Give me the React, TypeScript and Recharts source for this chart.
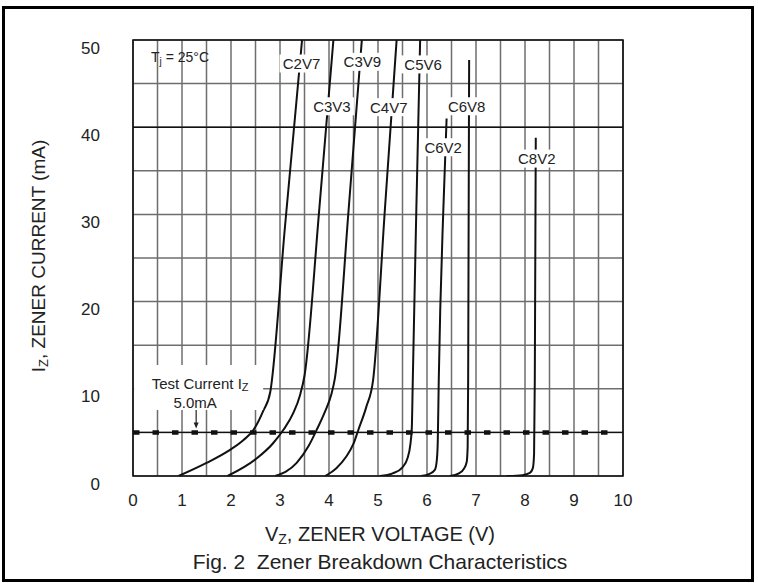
import React from "react";
import {
  LineChart,
  Line,
  XAxis,
  YAxis,
  CartesianGrid,
  ReferenceLine,
  ReferenceArea,
  ReferenceDot,
} from "recharts";

// Vz (V), Iz (mA)
const c2v7: [number, number][] = [[0.93, 0], [1.5, 1.5], [1.98, 3.0], [2.25, 4.1], [2.46, 5.3], [2.66, 7.5], [2.8, 9.6], [3.1, 28.5], [3.45, 50]];
const c3v3: [number, number][] = [[1.93, 0], [2.52, 2.0], [2.85, 3.7], [3.07, 5.3], [3.27, 7.2], [3.41, 9.3], [3.5, 11.5], [3.8, 30.5], [4.09, 50]];
const c3v9: [number, number][] = [[2.9, 0], [3.34, 1.5], [3.58, 3.4], [3.75, 5.3], [3.92, 7.4], [4.05, 9.4], [4.12, 11.2], [4.4, 30.5], [4.67, 50]];
const c4v7: [number, number][] = [[3.92, 0], [4.15, 0.9], [4.35, 2.2], [4.5, 3.7], [4.6, 5.3], [4.76, 7.9], [4.9, 11], [5.14, 30.5], [5.38, 50]];
const c5v6: [number, number][] = [[5.04, 0], [5.3, 0.3], [5.5, 1.0], [5.6, 2.0], [5.66, 3.6], [5.69, 5.5], [5.71, 11], [5.78, 30], [5.86, 50]];
const c6v2: [number, number][] = [[5.88, 0], [6.05, 0.25], [6.16, 0.7], [6.2, 1.8], [6.22, 4], [6.24, 11], [6.27, 19], [6.33, 30], [6.4, 41]];
const c6v8: [number, number][] = [[6.47, 0], [6.65, 0.3], [6.75, 0.8], [6.81, 1.6], [6.83, 3.4], [6.84, 11], [6.86, 47.7]];
const c8v2: [number, number][] = [[7.62, 0], [7.95, 0.1], [8.1, 0.35], [8.16, 0.9], [8.185, 2.5], [8.2, 11], [8.22, 38.8]];

const curves = [
  { name: "C2V7", pts: c2v7 },
  { name: "C3V3", pts: c3v3 },
  { name: "C3V9", pts: c3v9 },
  { name: "C4V7", pts: c4v7 },
  { name: "C5V6", pts: c5v6 },
  { name: "C6V2", pts: c6v2 },
  { name: "C6V8", pts: c6v8 },
  { name: "C8V2", pts: c8v2 },
];

// where the part names sit on the plot (V, mA)
const curveLabels = [
  { name: "C2V7", v: 3.44, i: 47.3 },
  { name: "C3V3", v: 4.06, i: 42.4 },
  { name: "C3V9", v: 4.68, i: 47.5 },
  { name: "C4V7", v: 5.22, i: 42.3 },
  { name: "C5V6", v: 5.92, i: 47.2 },
  { name: "C6V8", v: 6.81, i: 42.4 },
  { name: "C6V2", v: 6.33, i: 37.7 },
  { name: "C8V2", v: 8.24, i: 36.4 },
];

const xTicks = [0, 0.5, 1, 1.5, 2, 2.5, 3, 3.5, 4, 4.5, 5, 5.5, 6, 6.5, 7, 7.5, 8, 8.5, 9, 9.5, 10];
const yTicks = [0, 5, 10, 15, 20, 25, 30, 35, 40, 45, 50];
const testCurrent = 5;

const FONT = '"Liberation Sans", Arial, sans-serif';
const INK = "#222";

const XTick = ({ x, y, payload }: any) => {
  if (!Number.isInteger(payload.value)) return <g />;
  return (
    <text x={x} y={y + 24} textAnchor="middle" dominantBaseline="central" fontSize={17} fill={INK} fontFamily={FONT}>
      {payload.value}
    </text>
  );
};

const YTick = ({ x, y, payload }: any) => {
  if (payload.value % 10 !== 0) return <g />;
  return (
    <text x={x - 33} y={y + 8} textAnchor="end" dominantBaseline="central" fontSize={17} fill={INK} fontFamily={FONT}>
      {payload.value}
    </text>
  );
};

const partLabel = (name: string) => (props: any) => {
  const { cx, cy } = props;
  return (
    <g>
      <rect x={cx - 22} y={cy - 9} width={44} height={18} fill="#fff" />
      <text x={cx} y={cy} textAnchor="middle" dominantBaseline="central" fontSize={15} fill={INK} fontFamily={FONT}>
        {name}
      </text>
    </g>
  );
};

const testLabel = (props: any) => {
  const { cx, cy } = props;
  return (
    <g fontFamily={FONT} fill={INK}>
      <rect x={cx - 64.5} y={cy - 22.5} width={129} height={45} fill="#fff" />
      <text x={cx + 1.5} y={cy - 4} textAnchor="middle" dominantBaseline="central" fontSize={15}>
        Test Current I
        <tspan fontSize={11} dy={4}>Z</tspan>
      </text>
      <text x={cx - 3.5} y={cy + 15.5} textAnchor="middle" dominantBaseline="central" fontSize={15}>
        5.0mA
      </text>
      <line x1={cx - 2.5} y1={cy + 22.5} x2={cx - 2.5} y2={cy + 38} stroke={INK} strokeWidth={1.2} />
      <polygon points={`${cx - 5},${cy + 35} ${cx},${cy + 35} ${cx - 2.5},${cy + 41}`} fill={INK} />
    </g>
  );
};

const tjLabel = (props: any) => {
  const { cx, cy } = props;
  return (
    <text x={cx} y={cy} textAnchor="middle" dominantBaseline="central" fontSize={14} fill={INK} fontFamily={FONT}>
      T<tspan fontSize={10} dy={4}>j</tspan>
      <tspan dy={-4}> = 25°C</tspan>
    </text>
  );
};

export default function App() {
  return (
    <div style={{ position: "absolute", left: 0, top: 0, width: 758, height: 583, background: "#fff" }}>
      <div
        style={{
          position: "absolute",
          left: 2,
          top: 6,
          width: 752,
          height: 576,
          border: "3px solid #000",
          boxSizing: "border-box",
        }}
      />
      <LineChart width={758} height={583} margin={{ top: 40, right: 135, bottom: 0, left: 0 }}>
        <CartesianGrid stroke="#6e6e6e" strokeWidth={1.5} />
        <XAxis
          type="number"
          dataKey="v"
          domain={[0, 10]}
          ticks={xTicks}
          allowDataOverflow
          axisLine={false}
          tickLine={false}
          tickSize={0}
          tickMargin={0}
          height={107}
          tick={<XTick />}
          interval={0}
        />
        <YAxis
          type="number"
          dataKey="i"
          domain={[0, 50]}
          ticks={yTicks}
          allowDataOverflow
          axisLine={false}
          tickLine={false}
          tickSize={0}
          tickMargin={0}
          width={133}
          tick={<YTick />}
          interval={0}
        />
        <ReferenceLine y={40} stroke="#111" strokeWidth={1.6} />
        <ReferenceLine y={testCurrent} stroke="#111" strokeWidth={1.3} />
        <ReferenceLine
          segment={[{ x: 0, y: testCurrent }, { x: 9.72, y: testCurrent }]}
          stroke="#111"
          strokeWidth={4.5}
          strokeDasharray="6.5 13"
        />
        {curves.map((c) => (
          <Line
            key={c.name}
            data={c.pts.map(([v, i]) => ({ v, i }))}
            dataKey="i"
            type="monotone"
            stroke="#111"
            strokeWidth={2}
            dot={false}
            isAnimationActive={false}
            name={c.name}
          />
        ))}
        <ReferenceArea x1={0} x2={10} y1={0} y2={50} fill="none" stroke="#111" strokeWidth={1.6} />
        {curveLabels.map((l) => (
          <ReferenceDot key={l.name} x={l.v} y={l.i} r={0} zIndex={1500} shape={partLabel(l.name)} />
        ))}
        <ReferenceDot x={1.34} y={10.15} r={0} zIndex={1500} shape={testLabel} />
        <ReferenceDot x={0.96} y={48} r={0} zIndex={1500} shape={tjLabel} />
      </LineChart>
      <svg
        width={758}
        height={583}
        style={{ position: "absolute", left: 0, top: 0, pointerEvents: "none" }}
        fontFamily={FONT}
        fill={INK}
      >
        <text x={38} y={256} transform="rotate(-90 38 256)" textAnchor="middle" dominantBaseline="central" fontSize={19}>
          I<tspan fontSize={13} dy={5}>Z</tspan>
          <tspan dy={-5}>, ZENER CURRENT (mA)</tspan>
        </text>
        <text x={380} y={534} textAnchor="middle" dominantBaseline="central" fontSize={20}>
          V<tspan fontSize={14} dy={5}>Z</tspan>
          <tspan dy={-5}>, ZENER VOLTAGE (V)</tspan>
        </text>
        <text x={380} y={561} textAnchor="middle" dominantBaseline="central" fontSize={21}>
          Fig. 2{"\u00a0\u00a0"}Zener Breakdown Characteristics
        </text>
      </svg>
    </div>
  );
}
